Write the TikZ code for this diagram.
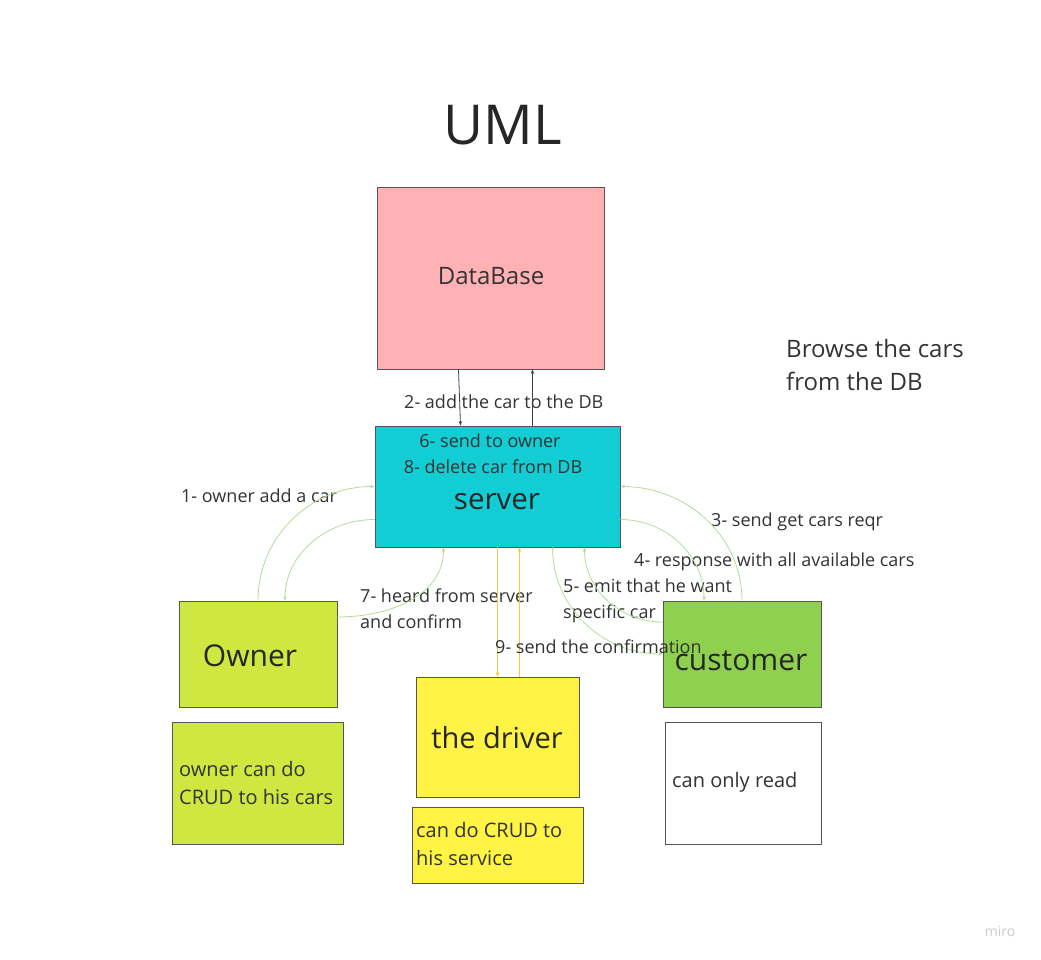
\documentclass[tikz,border=0pt]{standalone}
\usepackage{fontspec}
\setmainfont{Open Sans}
\usetikzlibrary{arrows.meta}
\definecolor{txt}{HTML}{333333}
\definecolor{dbfill}{HTML}{FFB1B4}
\definecolor{srvfill}{HTML}{12CDD4}
\definecolor{ownfill}{HTML}{CEE741}
\definecolor{cusfill}{HTML}{8FD14F}
\definecolor{drvfill}{HTML}{FFF345}
\definecolor{grn}{HTML}{B5DC98}
\definecolor{ylw}{HTML}{F5C84C}
\definecolor{boxline}{HTML}{555555}
\newcommand{\fs}[2]{\fontsize{#1}{#2}\selectfont}
\tikzset{
  box/.style={draw=boxline, line width=0.8pt, inner sep=0pt, text=txt},
  lbl/.style={text=txt, inner sep=0pt, align=left, anchor=west, font=\fs{18}{26}},
  notetext/.style={text=txt, inner sep=0pt, align=left, anchor=west, font=\fs{20}{28}},
  conn/.style={line width=0.8pt, -{Stealth[length=4.5pt,width=3.5pt]}},
  gconn/.style={conn, draw=grn},
  yconn/.style={conn, draw=ylw, line width=1.1pt},
  dconn/.style={conn, draw=black!75}
}
\begin{document}
\begin{tikzpicture}[x=1pt,y=-1pt]
\useasboundingbox[fill=white] (0,0) rectangle (1041,960);
\node[text=black!85, font=\fs{55}{60}] (title) at (503,125) {UML};
% boxes
\node[box, fill=dbfill, minimum width=227pt, minimum height=182pt] (db) at (490.5,278) {};
\node[text=txt, font=\fs{24}{28}] (dbt) at (491,276) {DataBase};
\node[box, fill=srvfill, minimum width=245pt, minimum height=121pt] (server) at (497.5,486.5) {};
\node[text=black!85, font=\fs{29.5}{32}] (srvt) at (497,502) {server};
\node[text=txt, font=\fs{18}{20}] (l6) at (490,441) {6- send to owner};
\node[text=txt, font=\fs{18}{20}] (l8) at (493,467) {8- delete car from DB};
\node[box, fill=ownfill, minimum width=158pt, minimum height=106pt] (owner) at (258,654) {};
\node[text=black!85, font=\fs{30}{32}] (ownt) at (250,656) {Owner};
\node[box, fill=ownfill, minimum width=171pt, minimum height=122pt] (ownnote) at (257.5,783) {};
\node[notetext] (ownnt) at (179,783) {owner can do\\CRUD to his cars};
\node[box, fill=drvfill, minimum width=163pt, minimum height=120pt] (driver) at (497.5,737) {};
\node[text=black!85, font=\fs{29}{32}] (drvt) at (497,738) {the driver};
\node[box, fill=drvfill, minimum width=171pt, minimum height=76pt] (drvnote) at (497.5,845) {};
\node[notetext] (drvnt) at (416,844) {can do CRUD to\\his service};
\node[box, fill=cusfill, minimum width=158pt, minimum height=106pt] (customer) at (742,654) {};
\node[box, fill=white, minimum width=156pt, minimum height=122pt] (cusnote) at (743,783) {};
\node[notetext] (cusnt) at (672,782) {can only read};
% labels
\node[text=txt, inner sep=0pt, align=left, anchor=west, font=\fs{24}{33}] (browse) at (786,364.5) {Browse the cars\\from the DB};
\node[lbl] (l2) at (404,401.5) {2- add the car to the DB};
\node[lbl] (l1) at (181,495.5) {1- owner add a car};
\node[lbl] (l7) at (360,608.5) {7- heard from server\\and confirm};
\node[lbl] (l3) at (711,521.5) {3- send get cars reqr};
\node[lbl] (l4) at (634,561.5) {4- response with all available cars};
\node[lbl] (l5) at (563,600.5) {5- emit that he want\\specific car};
% connectors
\draw[dconn] ([xshift=-32pt]db.south) -- ([xshift=-37pt]server.north);
\draw[dconn] ([xshift=35pt]server.north) -- ([xshift=42pt]db.south);
\draw[gconn] (owner.north) to[out=90,in=180] (server.west);
\draw[gconn] ([yshift=-33pt]server.west) to[out=180,in=90] ([xshift=27pt]owner.north);
\draw[gconn] ([yshift=37pt]owner.east) to[out=0,in=-90] ([xshift=-54pt]server.south);
\draw[yconn] (server.south) -- (driver.north);
\draw[yconn] ([xshift=22pt]driver.north) -- ([xshift=22pt]server.south);
\draw[gconn] ([xshift=55pt]server.south) to[out=-90,in=180] (customer.west);
\draw[gconn] ([yshift=32pt]customer.west) to[out=180,in=-90] ([xshift=87pt]server.south);
\draw[gconn] ([yshift=-33pt]server.east) to[out=0,in=90] ([xshift=-38pt]customer.north);
\draw[gconn] (customer.north) to[out=90,in=0] (server.east);
% texts over customer box
\node[text=black!85, font=\fs{30}{32}] (cust) at (741,661) {customer};
\node[lbl] (l9) at (495,646.5) {9- send the confirmation};
\node[text=black!20, font=\fs{14}{16}] (miro) at (1000,931) {miro};
\end{tikzpicture}
\end{document}
